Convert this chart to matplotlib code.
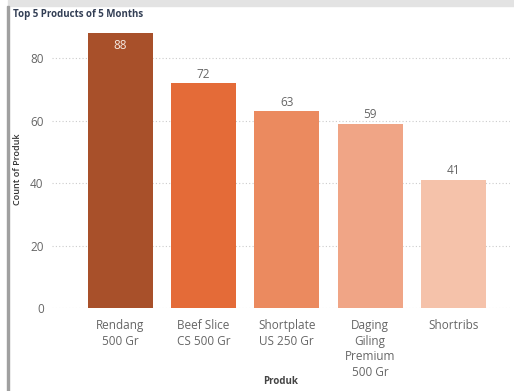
import matplotlib.pyplot as plt
from matplotlib.patches import Rectangle

# data
products = ["Rendang\n500 Gr", "Beef Slice\nCS 500 Gr", "Shortplate\nUS 250 Gr",
            "Daging\nGiling\nPremium\n500 Gr", "Shortribs"]
counts = [88, 72, 63, 59, 41]
bar_colors = ["#A8502A", "#E46B38", "#EB8A5F", "#F0A586", "#F5C2AA"]
y_ticks = [0, 20, 40, 60, 80]

plt.rcParams["font.family"] = ["Open Sans", "DejaVu Sans"]

fig = plt.figure(figsize=(5.14, 3.91), dpi=100)

# screenshot frame: gray strip on top, line on the left
fig.patches.append(Rectangle((8 / 514, 1 - 6 / 391), 1, 6 / 391, transform=fig.transFigure,
                             color="#E3E3E3", zorder=0))
fig.patches.append(Rectangle((7 / 514, 0), 2 / 514, 1 - 6 / 391, transform=fig.transFigure,
                             color="#A0A0A0", zorder=0))

ax = fig.add_axes([52 / 514, 83 / 391, 458 / 514, 278 / 391])
x = list(range(len(products)))
bars = ax.bar(x, counts, width=0.78, color=bar_colors, zorder=2)

ax.set_xlim(-0.82, 4.68)
ax.set_ylim(0, 89)
ax.set_yticks(y_ticks)
ax.set_xticks(x)
ax.set_xticklabels(products, linespacing=1.25)
ax.tick_params(axis="both", length=0, colors="#666666", labelsize=8.5)
ax.tick_params(axis="y", pad=6)
ax.tick_params(axis="x", pad=8)
for spine in ax.spines.values():
    spine.set_visible(False)
ax.grid(axis="y", linestyle=(0, (1, 2)), color="#CCCCCC", linewidth=0.8, zorder=1)

for i, (bar, val) in enumerate(zip(bars, counts)):
    if i == 0:
        ax.text(bar.get_x() + bar.get_width() / 2, val - 1.8, str(val), ha="center", va="top",
                color="#F5E8E0", fontsize=8.5)
    else:
        ax.text(bar.get_x() + bar.get_width() / 2, val + 0.8, str(val), ha="center", va="bottom",
                color="#666666", fontsize=8.5)

ax.set_ylabel("Count of Produk", fontsize=6.5, color="#333333", labelpad=6, fontweight="semibold")
ax.set_xlabel("Produk", fontsize=7, color="#444444", fontweight="bold", va="center")
ax.xaxis.set_label_coords(0.5, -0.265)

fig.text(13 / 514, 1 - 14 / 391, "Top 5 Products of 5 Months", fontsize=7, color="#333F55",
         fontweight="bold", va="center", ha="left")

fig.savefig("out.png", dpi=100)
